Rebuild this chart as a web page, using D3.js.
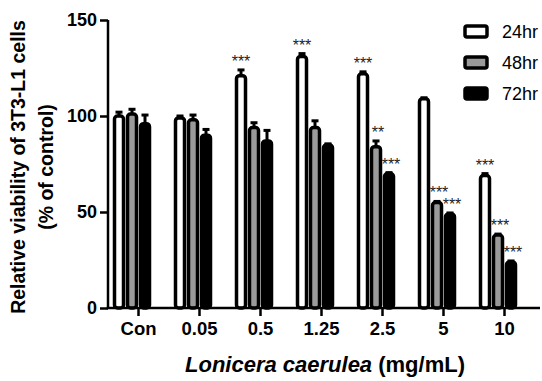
<!DOCTYPE html>
<html>
<head>
<meta charset="utf-8">
<script src="https://cdn.jsdelivr.net/npm/d3@7"></script>
<style>
  body { margin: 0; background: #fff; }
  text { font-family: "Liberation Sans", Arial, Helvetica, sans-serif; }
</style>
</head>
<body>
<div id="chart"></div>
<script>
// data
const categories = ["Con", "0.05", "0.5", "1.25", "2.5", "5", "10"];
const series = ["24hr", "48hr", "72hr"];
const values24 = [100, 99, 121, 131, 122, 109, 69];
const values48 = [101, 98, 94, 94, 84, 55, 38];
const values72 = [96, 90, 87, 85, 70, 49, 24];
const err24 = [2, 1, 3, 1.5, 1, 0.5, 1];
const err48 = [2.5, 2.5, 2.5, 3.5, 3, 0.5, 0.5];
const err72 = [4.5, 3, 5.5, 0.5, 0.5, 0.5, 0.5];
const sig24 = ["", "", "***", "***", "***", "", "***"];
const sig48 = ["", "", "", "", "**", "***", "***"];
const sig72 = ["", "", "", "", "***", "***", "***"];
const yTicks = [0, 50, 100, 150];

const fills = ["#ffffff", "#9a9a9a", "#000000"];

let width = 542, height = 381;
let svg = d3.select("#chart").append("svg")
    .attr("width", width)
    .attr("height", height);

let x = d3.scaleBand().domain(categories).range([108, 535]);
let xs = d3.scaleBand().domain(series).range([-26, 13]);
let y = d3.scaleLinear().domain([0, 150]).range([308, 20]);

let vals = [values24, values48, values72];
let errs = [err24, err48, err72];
let sigs = [sig24, sig48, sig72];

// flatten to one record per bar
let data = [];
categories.forEach(function(c, i) {
  series.forEach(function(s, j) {
    data.push({cat: c, ser: s, j: j, v: vals[j][i], e: errs[j][i], sig: sigs[j][i]});
  });
});

function cx(d) { return x(d.cat) + x.bandwidth() / 2 + xs(d.ser) + xs.bandwidth() / 2; }

let bw = 9;   // inner width of bar, the thick stroke adds the rest

// error bars (upper only, the lower half sits inside the bar)
let eb = svg.append("g").attr("stroke", "#000").attr("stroke-width", 3);
eb.selectAll("line.v").data(data).enter().append("line")
    .attr("x1", cx).attr("x2", cx)
    .attr("y1", function(d) { return y(d.v); })
    .attr("y2", function(d) { return y(d.v + d.e); });
eb.selectAll("line.c").data(data).enter().append("line")
    .attr("x1", function(d) { return cx(d) - 3.5; })
    .attr("x2", function(d) { return cx(d) + 3.5; })
    .attr("y1", function(d) { return y(d.v + d.e); })
    .attr("y2", function(d) { return y(d.v + d.e); });

// bars
svg.append("g").selectAll("rect").data(data).enter().append("rect")
    .attr("x", function(d) { return cx(d) - bw / 2; })
    .attr("y", function(d) { return y(d.v); })
    .attr("width", bw)
    .attr("height", function(d) { return y(0) - y(d.v); })
    .attr("rx", 3)
    .attr("fill", function(d) { return fills[d.j]; })
    .attr("stroke", "#000")
    .attr("stroke-width", 3.5);

// significance stars
svg.append("g").selectAll("text").data(data.filter(function(d) { return d.sig; })).enter().append("text")
    .attr("x", function(d) { return cx(d) + (d.j > 0 ? 2 : 0); })
    .attr("y", function(d) { return y(d.v + d.e) - 3; })
    .attr("text-anchor", "middle")
    .style("font-size", "16px")
    .attr("fill", "#222")
    .text(function(d) { return d.sig; });

// y axis
let yAxis = svg.append("g")
    .attr("transform", "translate(108,0)")
    .call(d3.axisLeft(y).tickValues(yTicks).tickSize(8).tickSizeOuter(0).tickPadding(3));
yAxis.select(".domain").attr("stroke-width", 2.5).attr("d", "M0," + y(0) + "V" + y(150));
yAxis.selectAll(".tick line").attr("stroke-width", 2.5);
yAxis.selectAll(".tick text")
    .style("font-size", "18px").style("font-weight", "bold")
    .style("font-family", "'Liberation Sans', Arial, sans-serif").attr("fill", "#000");

// x axis
let xAxis = svg.append("g")
    .attr("transform", "translate(0,308)")
    .call(d3.axisBottom(x).tickSize(8).tickSizeOuter(0).tickPadding(6));
xAxis.select(".domain").attr("stroke-width", 2.5).attr("d", "M106.75,0H540");
xAxis.selectAll(".tick line").attr("stroke-width", 2.5);
xAxis.selectAll(".tick text")
    .style("font-size", "18.5px").style("font-weight", "bold")
    .style("font-family", "'Liberation Sans', Arial, sans-serif").attr("fill", "#000");

// x title
let xt = svg.append("text")
    .attr("x", 325).attr("y", 372)
    .attr("text-anchor", "middle")
    .style("font-size", "22px").style("font-weight", "bold");
xt.append("tspan").style("font-style", "italic").text("Lonicera caerulea");
xt.append("tspan").text(" (mg/mL)");

// y title
svg.append("text")
    .attr("transform", "translate(25,167) rotate(-90)")
    .attr("text-anchor", "middle")
    .style("font-size", "19.5px").style("font-weight", "bold")
    .text("Relative viability of 3T3-L1 cells");
svg.append("text")
    .attr("transform", "translate(53,167) rotate(-90)")
    .attr("text-anchor", "middle")
    .style("font-size", "19.5px").style("font-weight", "bold")
    .text("(% of control)");

// legend
let lg = svg.append("g").selectAll("g").data(series).enter().append("g")
    .attr("transform", function(d, i) { return "translate(465," + (26 + i * 31) + ")"; });
lg.append("rect")
    .attr("width", 22).attr("height", 11).attr("rx", 2)
    .attr("fill", function(d, i) { return fills[i]; })
    .attr("stroke", "#000").attr("stroke-width", 3.5);
lg.append("text")
    .attr("x", 37).attr("y", 12)
    .style("font-size", "18px")
    .text(function(d) { return d; });
</script>
</body>
</html>
